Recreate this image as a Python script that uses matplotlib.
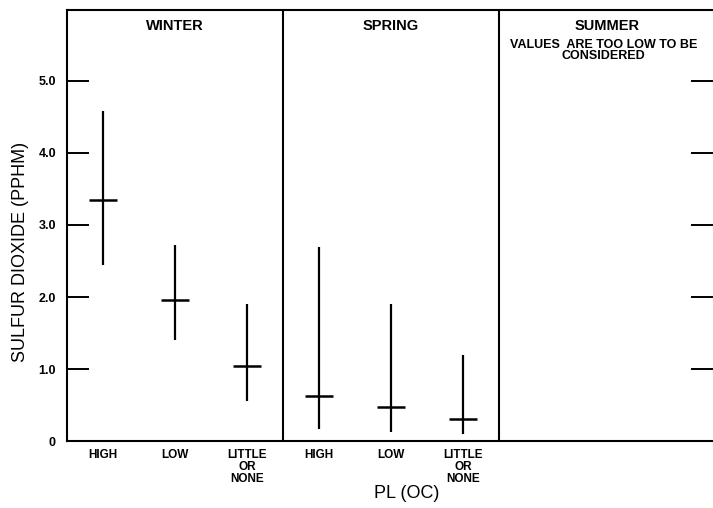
import matplotlib
matplotlib.use("Agg")
import matplotlib.pyplot as plt

# ---- data ----
seasons = ["WINTER", "SPRING", "SUMMER"]
categories = ["HIGH", "LOW", "LITTLE\nOR\nNONE", "HIGH", "LOW", "LITTLE\nOR\nNONE"]
cat_pos = [0.5, 1.5, 2.5, 3.5, 4.5, 5.5]
medians = [3.35, 1.96, 1.04, 0.63, 0.47, 0.30]
lows = [2.44, 1.40, 0.56, 0.17, 0.12, 0.10]
highs = [4.58, 2.72, 1.90, 2.70, 1.90, 1.19]
yticks = [0, 1.0, 2.0, 3.0, 4.0, 5.0]
ytick_labels = ["0", "1.0", "2.0", "3.0", "4.0", "5.0"]
summer_note = "VALUES  ARE TOO LOW TO BE\nCONSIDERED"

FONT = "Liberation Sans"

fig = plt.figure(figsize=(7.13, 5.08), dpi=100)
ax = fig.add_axes([67/713, 67/508, 646/713, 431/508])
ax.set_xlim(0, 646/72)
ax.set_ylim(0, 431/72)

for x, lo, hi, md in zip(cat_pos, lows, highs, medians):
    ax.plot([x, x], [lo, hi], color="black", lw=1.6, solid_capstyle="butt")
    ax.plot([x - 0.19, x + 0.19], [md, md], color="black", lw=1.8, solid_capstyle="butt")

for xd in [3, 6]:
    ax.axvline(xd, color="black", lw=1.5)

for sp in ["left", "bottom", "top"]:
    ax.spines[sp].set_linewidth(1.5)
ax.spines["right"].set_visible(False)

ax.set_yticks(yticks)
ax.set_yticklabels(ytick_labels, fontsize=9, fontweight="bold", family=FONT)
ax.tick_params(axis="y", direction="in", length=16, width=1.4, pad=8,
               left=True, right=True)
ax.set_xticks(cat_pos)
ax.set_xticklabels(categories, fontsize=8.5, fontweight="bold", family=FONT,
                   linespacing=1.0)
ax.tick_params(axis="x", length=0, pad=6)

title_y = 5.77
for i, s in enumerate(seasons):
    ax.text(1.5 + 3 * i, title_y, s, ha="center", va="center", fontsize=10.5,
            fontweight="bold", family=FONT)
ax.text(7.45, 5.42, summer_note, ha="center", va="center", fontsize=9,
        fontweight="bold", family=FONT, linespacing=0.9)

fig.text(21/713, 1 - 252/508, "SULFUR DIOXIDE (PPHM)", rotation=90, ha="center",
         va="center", fontsize=13, family=FONT)
fig.text(407/713, 1 - 493/508, "PL (OC)", ha="center", va="center",
         fontsize=13, family=FONT)

fig.savefig("out.png", dpi=100)
